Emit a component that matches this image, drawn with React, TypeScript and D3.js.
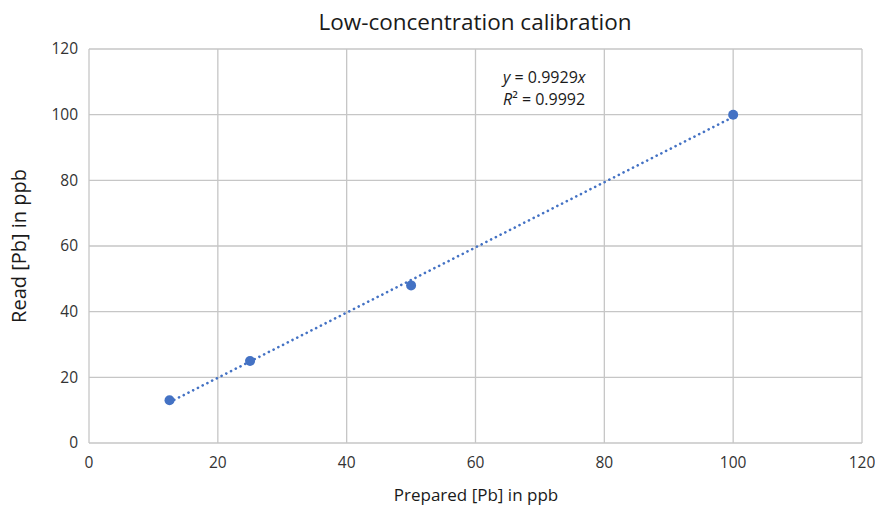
import React from "react";
import * as d3 from "d3";

const prepared = [12.5, 25, 50, 100];
const read = [13, 25, 48, 100];
const xTicks = [0, 20, 40, 60, 80, 100, 120];
const yTicks = [0, 20, 40, 60, 80, 100, 120];
const slope = 0.9929;
const title = "Low-concentration calibration";
const xTitle = "Prepared [Pb] in ppb";
const yTitle = "Read [Pb] in ppb";
const eqLine1 = "0.9929";
const eqLine2 = "0.9992";

const W = 875;
const H = 507;
const M = { left: 89, right: 862, top: 49, bottom: 443 };
const FONT = "'Open Sans', 'Liberation Sans', sans-serif";
const BLUE = "#4472C4";

export default function App() {
  const x = d3.scaleLinear().domain([0, 120]).range([M.left, M.right]);
  const y = d3.scaleLinear().domain([0, 120]).range([M.bottom, M.top]);
  const xMin = d3.min(prepared)!;
  const xMax = d3.max(prepared)!;
  const trend = d3.line<number>().x((d) => x(d)).y((d) => y(slope * d));

  return (
    <svg
      width={W}
      height={H}
      style={{ position: "absolute", left: 0, top: 0, display: "block", background: "#fff" }}
      fontFamily={FONT}
    >
      <rect width={W} height={H} fill="#fff" />
      {xTicks.map((t) => (
        <line key={"gx" + t} x1={x(t)} x2={x(t)} y1={M.top} y2={M.bottom} stroke="#c6c6c6" strokeWidth={1.3} />
      ))}
      {yTicks.map((t) => (
        <line key={"gy" + t} x1={M.left} x2={M.right} y1={y(t)} y2={y(t)} stroke="#c6c6c6" strokeWidth={1.3} />
      ))}
      {yTicks.map((t) => (
        <text key={"ty" + t} x={M.left - 11} y={y(t)} dy="0.35em" textAnchor="end" fontSize={15.5} fill="#333">
          {t}
        </text>
      ))}
      {xTicks.map((t) => (
        <text key={"tx" + t} x={x(t)} y={M.bottom + 25} textAnchor="middle" fontSize={15.5} fill="#333">
          {t}
        </text>
      ))}
      <path
        d={trend([xMin, xMax]) || ""}
        fill="none"
        stroke={BLUE}
        strokeWidth={2.6}
        strokeDasharray="0.1 5.2"
        strokeLinecap="round"
      />
      {prepared.map((p, i) => (
        <circle key={"pt" + i} cx={x(p)} cy={y(read[i])} r={5} fill={BLUE} />
      ))}
      <text x={475} y={30} textAnchor="middle" fontSize={22.5} fill="#1a1a1a">
        {title}
      </text>
      <text
        transform={`translate(26,${(M.top + M.bottom) / 2}) rotate(-90)`}
        textAnchor="middle"
        fontSize={20}
        fill="#1a1a1a"
      >
        {yTitle}
      </text>
      <text x={476} y={501} textAnchor="middle" fontSize={17} fill="#1a1a1a">
        {xTitle}
      </text>
      <text x={503} y={83} fontSize={16} fill="#1a1a1a">
        <tspan fontStyle="italic">y</tspan>
        <tspan>{" = " + eqLine1}</tspan>
        <tspan fontStyle="italic">x</tspan>
      </text>
      <text x={503} y={105} fontSize={16} fill="#1a1a1a">
        <tspan fontStyle="italic">R</tspan>
        <tspan>{"² = " + eqLine2}</tspan>
      </text>
    </svg>
  );
}
